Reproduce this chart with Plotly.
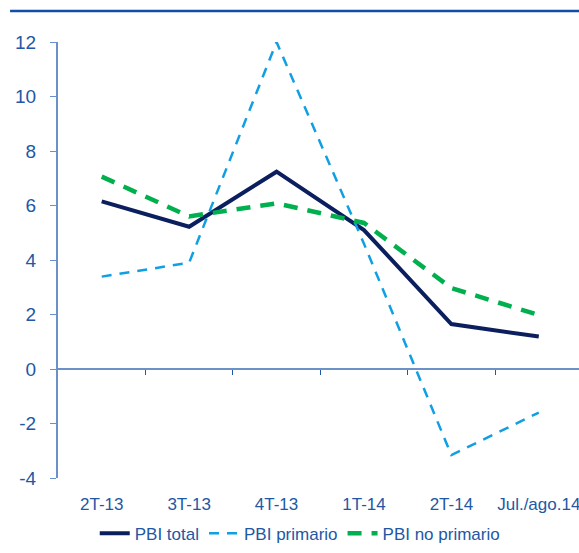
import plotly.graph_objects as go

categories = ["2T-13", "3T-13", "4T-13", "1T-14", "2T-14", "Jul./ago.14"]
pbi_total = [6.15, 5.22, 7.24, 5.1, 1.65, 1.19]
pbi_primario = [3.39, 3.9, 12.0, 4.6, -3.16, -1.6]
pbi_no_primario = [7.06, 5.6, 6.08, 5.36, 2.97, 1.98]
y_ticks = [-4, -2, 0, 2, 4, 6, 8, 10, 12]
y_tick_text = ["-4", "-2", "0", "2", "4", "6", "8", "10", "12"]

xpos = list(range(len(categories)))
boundaries = [i + 0.5 for i in range(len(categories) - 1)]

txt_color = "#2257A6"
axis_color = "#6A91C8"

fig = go.Figure()
fig.add_trace(go.Scatter(x=xpos, y=pbi_total, name="PBI total", mode="lines",
                         line=dict(color="#0B1F5E", width=4)))
fig.add_trace(go.Scatter(x=xpos, y=pbi_primario, name="PBI primario", mode="lines",
                         line=dict(color="#109FE3", width=2.5, dash="10px,8px")))
fig.add_trace(go.Scatter(x=xpos, y=pbi_no_primario, name="PBI no primario", mode="lines",
                         line=dict(color="#00B04F", width=4.5, dash="14px,10px")))

fig.update_layout(
    width=579, height=553,
    margin=dict(l=58, r=0, t=42, b=75),
    paper_bgcolor="white", plot_bgcolor="white",
    font=dict(family="Liberation Sans, Arial", color=txt_color, size=15),
    showlegend=True,
    legend=dict(orientation="h", x=0.464, xanchor="center", y=-0.128, yanchor="middle",
                font=dict(size=17, color=txt_color), itemwidth=30, tracegroupgap=0,
                bgcolor="rgba(0,0,0,0)"),
    xaxis=dict(range=[-0.5, 5.46], tickmode="array", tickvals=xpos, ticktext=categories,
               showline=False, showgrid=False, zeroline=False, ticks="",
               ticklabeloverflow="allow",
               tickfont=dict(size=17, color=txt_color), ticklabelstandoff=14),
    xaxis2=dict(overlaying="x", matches="x", range=[-0.5, 5.46], anchor="free",
                position=0.25, side="bottom", tickmode="array", tickvals=boundaries,
                showticklabels=False, ticks="outside", ticklen=5, tickcolor="#2257A6",
                showline=True, linecolor=axis_color, linewidth=2, showgrid=False,
                zeroline=False),
    yaxis=dict(range=[-4, 12], tickmode="array", tickvals=y_ticks, ticktext=y_tick_text,
               showline=True, linecolor=axis_color, linewidth=2, ticks="outside",
               ticklen=6, tickcolor=axis_color, showgrid=False, zeroline=False,
               tickfont=dict(size=19, color=txt_color), ticklabelstandoff=10),
)
# invisible helper trace so xaxis2 is drawn
fig.add_trace(go.Scatter(x=[0], y=[0], xaxis="x2", mode="markers", marker=dict(opacity=0),
                         showlegend=False, hoverinfo="skip"))

fig.add_shape(type="line", xref="paper", yref="paper", x0=-0.092, x1=1.0,
              y0=(553 - 75 - 11) / (553 - 75 - 42), y1=(553 - 75 - 11) / (553 - 75 - 42),
              line=dict(color="#0F4FA8", width=2.5))

fig.write_html("out.html", config={"displayModeBar": False},
               post_script="document.body.style.margin='0';document.body.style.overflow='hidden';")
